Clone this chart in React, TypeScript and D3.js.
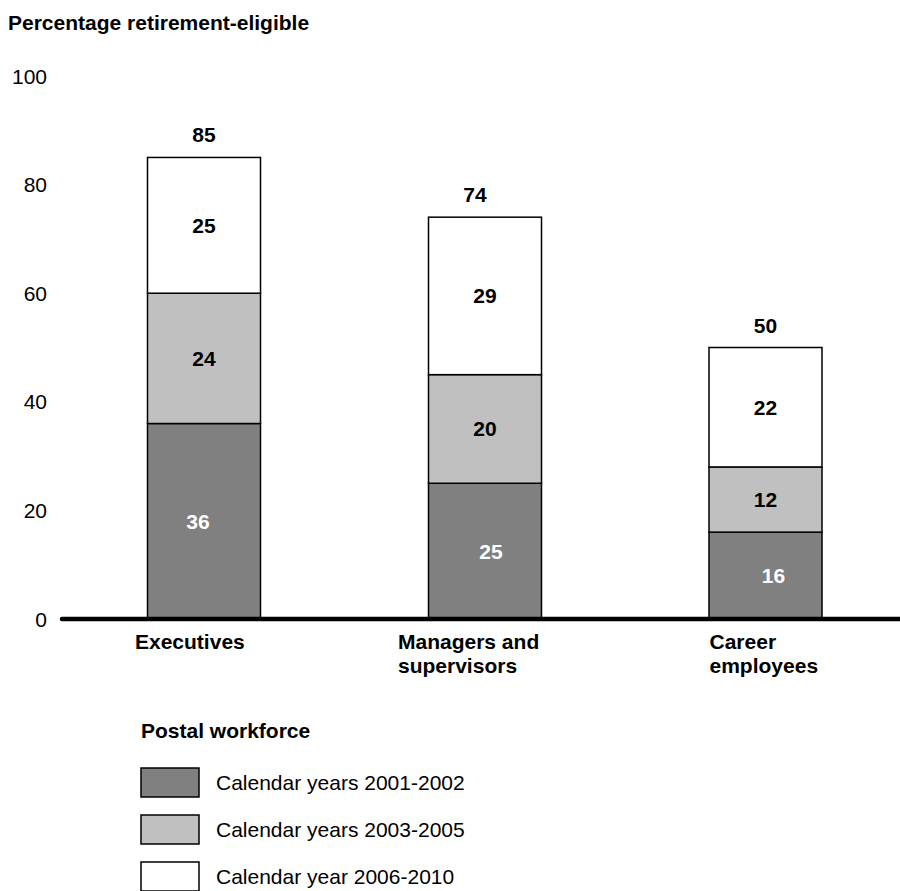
import React from "react";
import * as d3 from "d3";

const categories = ["Executives", "Managers and supervisors", "Career employees"];
const categoryLines = [["Executives"], ["Managers and", "supervisors"], ["Career", "employees"]];
const series = ["Calendar years 2001-2002", "Calendar years 2003-2005", "Calendar year 2006-2010"];
const values2001_2002 = [36, 25, 16];
const values2003_2005 = [24, 20, 12];
const values2006_2010 = [25, 29, 22];
const totals = [85, 74, 50];
const yTicks = [0, 20, 40, 60, 80, 100];

const W = 900;
const H = 891;
const FONT = "'Liberation Sans', Arial, Helvetica, sans-serif";
const FS = 21;

export default function App() {
  const y = d3.scaleLinear().domain([0, 100]).range([619, 76]);
  const xCenter = d3.scaleOrdinal<string, number>().domain(categories).range([204, 485, 765.5]);
  const barW = 113;
  const labelOffset = d3.scaleOrdinal<string, number>().domain(categories).range([-69, -87, -56]);
  const darkOffset = d3.scaleOrdinal<string, number>().domain(categories).range([-6, 6, 8]);
  const totalOffset = d3.scaleOrdinal<string, number>().domain(categories).range([0, -10, 0]);
  const color = d3.scaleOrdinal<string, string>().domain(series).range(["#808080", "#c0c0c0", "#ffffff"]);
  const textColor = d3.scaleOrdinal<string, string>().domain(series).range(["#ffffff", "#000000", "#000000"]);

  const rows = categories.map((c, i) => ({
    cat: c,
    [series[0]]: values2001_2002[i],
    [series[1]]: values2003_2005[i],
    [series[2]]: values2006_2010[i],
  }));
  const stacked = d3.stack<any>().keys(series)(rows);

  return (
    <svg width={W} height={H} style={{ position: "absolute", left: 0, top: 0, display: "block" }} fontFamily={FONT}>
      <rect width={W} height={H} fill="#fff" />
      <text x={8} y={30} fontSize={FS} fontWeight="bold">Percentage retirement-eligible</text>
      {yTicks.map((t) => (
        <text key={t} x={47} y={y(t) + 7.5} fontSize={FS} textAnchor="end">{t}</text>
      ))}
      {stacked.map((layer, li) => (
        <g key={layer.key}>
          {layer.map((d, i) => {
            const c = categories[i];
            const cx = xCenter(c);
            const dx = li === 0 ? darkOffset(c) : 0;
            return (
              <g key={i}>
                <rect x={cx - barW / 2} y={y(d[1])} width={barW} height={y(d[0]) - y(d[1])}
                  fill={color(layer.key)} stroke="#000" strokeWidth={1.5} />
                <text x={cx + dx} y={(y(d[0]) + y(d[1])) / 2 + 7.5} fontSize={FS} fontWeight="bold"
                  textAnchor="middle" fill={textColor(layer.key)}>{d[1] - d[0]}</text>
              </g>
            );
          })}
        </g>
      ))}
      {totals.map((t, i) => (
        <text key={i} x={xCenter(categories[i]) + totalOffset(categories[i])} y={y(t) - 15} fontSize={FS}
          fontWeight="bold" textAnchor="middle">{t}</text>
      ))}
      <line x1={62} x2={W} y1={y(0)} y2={y(0)} stroke="#000" strokeWidth={4.5} strokeLinecap="round" />
      {categories.map((c, i) => (
        <text key={c} x={xCenter(c) + labelOffset(c)} y={649} fontSize={FS} fontWeight="bold">
          {categoryLines[i].map((l, j) => (
            <tspan key={j} x={xCenter(c) + labelOffset(c)} dy={j === 0 ? 0 : 24}>{l}</tspan>
          ))}
        </text>
      ))}
      <text x={141} y={738} fontSize={FS} fontWeight="bold">Postal workforce</text>
      {series.map((s, i) => (
        <g key={s} transform={`translate(141, ${768 + i * 47})`}>
          <rect x={0} y={0} width={58} height={29} fill={color(s)} stroke="#000" strokeWidth={1.5} />
          <text x={75} y={22} fontSize={FS}>{s}</text>
        </g>
      ))}
    </svg>
  );
}
